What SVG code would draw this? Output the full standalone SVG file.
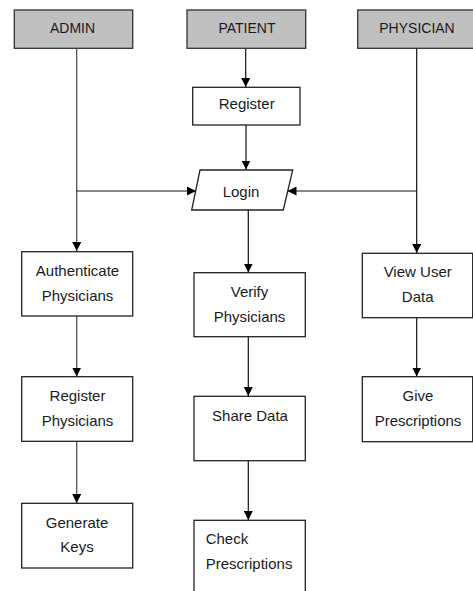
<svg xmlns="http://www.w3.org/2000/svg" width="473" height="591" viewBox="0 0 473 591">
<defs>
<style>
.hdr{fill:#c0c0c0;stroke:#333;stroke-width:1.3}
.box{fill:#fff;stroke:#222;stroke-width:1.3}
text{font-family:"Liberation Sans","Arial",sans-serif;font-size:15px;fill:#1a1a22;text-anchor:middle}
.h{font-size:14px}
.l{text-anchor:start}
.c{fill:none;stroke:#111;stroke-width:1.2}
.g{stroke:#444}
</style>
<marker id="ar" viewBox="0 0 10 10" refX="10" refY="5" markerWidth="9" markerHeight="9" markerUnits="userSpaceOnUse" orient="auto">
<path d="M0,0 L10,5 L0,10 Z" fill="#000"/>
</marker>
</defs>
<rect width="473" height="591" fill="#fff"/>
<g id="connectors">
<path class="c g" d="M76.7,48.5 V251" marker-end="url(#ar)"/>
<path class="c" d="M76.7,191 H196" marker-end="url(#ar)"/>
<path class="c" d="M245.7,48.5 V87" marker-end="url(#ar)"/>
<path class="c" d="M246,125 V169.5" marker-end="url(#ar)"/>
<path class="c" d="M416.7,48.5 V253" marker-end="url(#ar)"/>
<path class="c" d="M416.7,191 H287.5" marker-end="url(#ar)"/>
<path class="c" d="M248.3,210 V272.5" marker-end="url(#ar)"/>
<path class="c g" d="M76.7,316 V376.5" marker-end="url(#ar)"/>
<path class="c" d="M248.3,336.7 V396" marker-end="url(#ar)"/>
<path class="c" d="M416.7,317.7 V376.5" marker-end="url(#ar)"/>
<path class="c g" d="M76.7,441.3 V503" marker-end="url(#ar)"/>
<path class="c" d="M248.3,460.7 V520" marker-end="url(#ar)"/>
</g>
<g id="admin"><rect class="hdr" x="14.3" y="10" width="118.4" height="38.3"/><text class="h" x="72.5" y="33">ADMIN</text></g>
<g id="patient"><rect class="hdr" x="187" y="10" width="118.7" height="38.3"/><text class="h" x="247" y="33">PATIENT</text></g>
<g id="physician"><rect class="hdr" x="357.7" y="10" width="120" height="38.3"/><text class="h" x="417" y="33">PHYSICIAN</text></g>
<g id="register"><rect class="box" x="192.7" y="87.3" width="107.3" height="37.7"/><text x="246.7" y="109">Register</text></g>
<g id="login"><path class="box" d="M200,170 H292.7 L283.3,210 H191.7 Z"/><text x="241" y="196.5">Login</text></g>
<g id="authenticate"><rect class="box" x="21.7" y="251.7" width="111" height="64.3"/><text x="77.5" y="276">Authenticate</text><text x="77.5" y="300.7">Physicians</text></g>
<g id="verify"><rect class="box" x="194" y="272.7" width="111.3" height="64"/><text x="249.5" y="296.7">Verify</text><text x="249.5" y="321.7">Physicians</text></g>
<g id="viewuserdata"><rect class="box" x="362.3" y="253.3" width="110.4" height="64.4"/><text x="417.7" y="276.7">View User</text><text x="417.7" y="301.7">Data</text></g>
<g id="registerphysicians"><rect class="box" x="21.7" y="376.7" width="111" height="64.6"/><text x="77.5" y="401">Register</text><text x="77.5" y="426">Physicians</text></g>
<g id="sharedata"><rect class="box" x="194" y="396.3" width="111.3" height="64.4"/><text x="250" y="420.7">Share Data</text></g>
<g id="giveprescriptions"><rect class="box" x="362.3" y="376.7" width="110.4" height="65"/><text x="418" y="401">Give</text><text x="418" y="426">Prescriptions</text></g>
<g id="generatekeys"><rect class="box" x="21.7" y="503.3" width="111" height="64.7"/><text x="77" y="527.7">Generate</text><text x="77" y="552.3">Keys</text></g>
<g id="checkprescriptions"><rect class="box" x="194" y="520.3" width="111.3" height="80"/><text class="l" x="205.7" y="544.3">Check</text><text class="l" x="205.7" y="569.3">Prescriptions</text></g>
</svg>
